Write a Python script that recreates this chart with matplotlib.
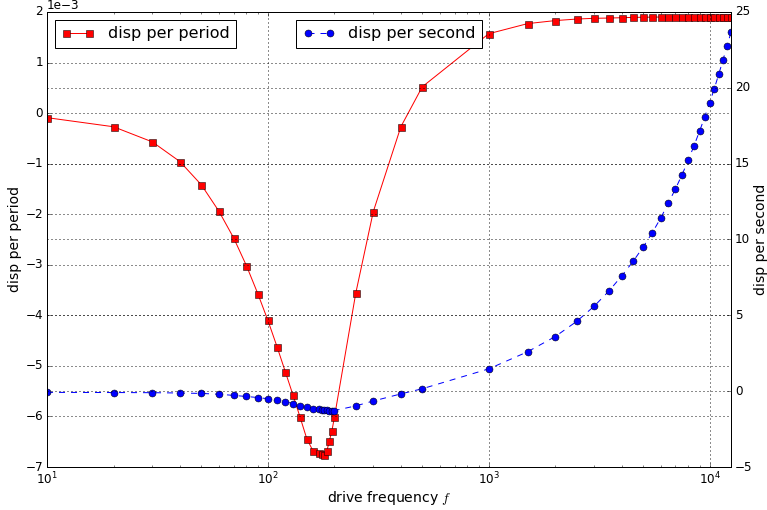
# coding = utf-8

import matplotlib
matplotlib.use("Agg")
import matplotlib.pyplot as plt

plt.style.use("classic")

# 驱动频率 (Hz)
freq = [10, 20, 30, 40, 50, 60, 70, 80, 90, 100,
        110, 120, 130, 140, 150, 160, 170, 175, 180, 185,
        190, 195, 200, 250, 300, 400, 500,
        1000, 1500, 2000, 2500, 3000, 3500, 4000, 4500, 5000, 5500,
        6000, 6500, 7000, 7500, 8000, 8500, 9000, 9500, 10000, 10500,
        11000, 11500, 12000, 12500]

# 每周期位移 (单位 1e-3)
disp_period = [-0.09, -0.27, -0.57, -0.96, -1.42, -1.94, -2.47, -3.02, -3.57, -4.10,
               -4.62, -5.12, -5.58, -6.02, -6.44, -6.68, -6.72, -6.74, -6.76, -6.68,
               -6.48, -6.28, -6.02, -3.56, -1.95, -0.27, 0.52,
               1.57, 1.77, 1.83, 1.86, 1.875, 1.88, 1.887, 1.893, 1.896, 1.898,
               1.90, 1.90, 1.90, 1.90, 1.90, 1.90, 1.90, 1.90, 1.90, 1.90,
               1.90, 1.90, 1.90, 1.90]

# 每秒位移
disp_second = [-0.08, -0.09, -0.10, -0.12, -0.15, -0.20, -0.28, -0.35, -0.42, -0.50,
               -0.58, -0.70, -0.82, -0.95, -1.07, -1.15, -1.20, -1.23, -1.25, -1.27,
               -1.28, -1.28, -1.28, -0.97, -0.65, -0.18, 0.16,
               1.47, 2.60, 3.60, 4.60, 5.60, 6.60, 7.60, 8.55, 9.50, 10.45,
               11.40, 12.40, 13.33, 14.27, 15.22, 16.19, 17.13, 18.08, 19.02, 19.95,
               20.90, 21.84, 22.76, 23.68]

fig = plt.figure(figsize=(767 / 72.0, 510 / 72.0), dpi=72)
ax = fig.add_axes([0.0613, 0.0843, 0.8918, 0.8922])
ax2 = ax.twinx()

ax.plot(freq, [v * 1e-3 for v in disp_period], "r-s", markersize=7, label="disp per period")
ax2.plot(freq, disp_second, "b--o", markersize=7, label="disp per second")

ax.set_xscale("log")
ax.set_xlim(10, 12500)
ax.set_ylim(-7e-3, 2e-3)
ax2.set_ylim(-5, 25)
ax.ticklabel_format(axis="y", style="sci", scilimits=(0, 0))

ax.set_xlabel("drive frequency $f$", fontsize=14, labelpad=1)
ax.set_ylabel("disp per period", fontsize=14, labelpad=3)
ax2.set_ylabel("disp per second", fontsize=14, labelpad=1)

# 网格: 黑色点线
ax.grid(True, color="k", linestyle=":", linewidth=0.9)
ax2.grid(True, color="k", linestyle=":", linewidth=0.9)

ax.legend(loc="upper left", fontsize=16, handletextpad=0.9)
ax2.legend(loc="upper center", fontsize=16)

fig.savefig("out.png", dpi=72)
